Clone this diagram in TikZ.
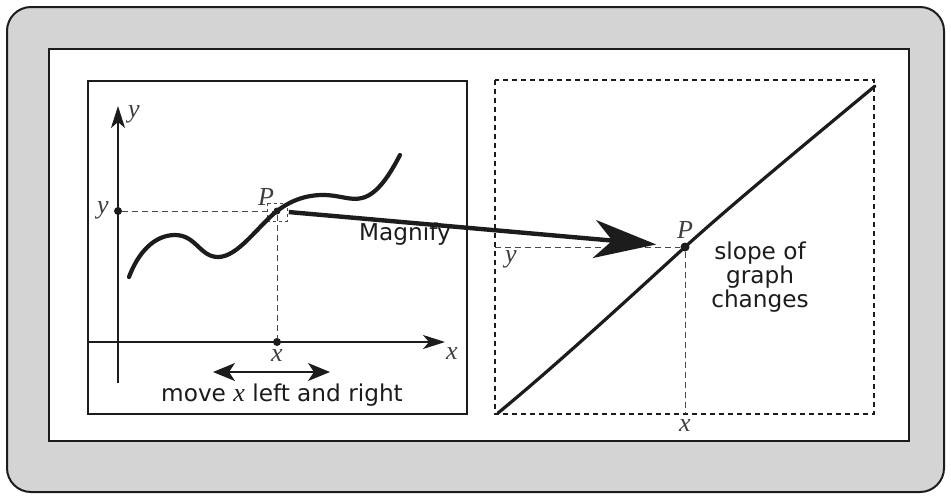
\documentclass[tikz,border=0pt]{standalone}
\usepackage{fontspec}
\setmainfont{Liberation Serif}
\setsansfont{DejaVu Sans}
\usepackage{tikz}
\usetikzlibrary{arrows.meta, positioning, calc}
\definecolor{panelgray}{HTML}{D4D4D4}
\definecolor{ink}{HTML}{1C1C1C}
\tikzstyle{frame} = [draw=ink, line width=1pt]
\tikzstyle{zoomframe} = [draw=ink, line width=1.1pt, dash pattern=on 2.5pt off 2pt]
\tikzstyle{guide} = [draw=ink!80, line width=0.5pt, dash pattern=on 3pt off 2pt]
\tikzstyle{axis} = [draw=ink, line width=0.9pt, -{Stealth[length=11pt, width=7pt, inset=3pt]}]
\tikzstyle{graphline} = [draw=ink, line width=2.1pt, line cap=round]
\tikzstyle{bigarrow} = [draw=ink, line width=2.2pt, -{Stealth[length=31pt, width=19pt, inset=9pt]}]
\tikzstyle{twoway} = [draw=ink, line width=0.9pt, {Stealth[length=11pt, width=9pt, inset=3pt]}-{Stealth[length=11pt, width=9pt, inset=3pt]}]
\tikzstyle{dot} = [circle, fill=ink, inner sep=0pt, minimum size=4pt]
\tikzstyle{var} = [font=\itshape\fontsize{13}{13}\selectfont, text=ink!85, inner sep=1pt]
\tikzstyle{caption} = [font=\sffamily\fontsize{11.6}{12}\selectfont, text=ink, align=center, inner sep=1pt]

\begin{document}
\begin{tikzpicture}[x=0.5pt, y=-0.5pt]
  \useasboundingbox (0,0) rectangle (951,499);

  % frames
  \draw[frame, fill=panelgray, rounded corners=12pt] (7,7) rectangle (944,492);
  \draw[frame, fill=white, line width=0.8pt] (49,49) rectangle (909,441);
  \draw[frame] (88,81) rectangle (467,414);
  \draw[zoomframe] (495,80) rectangle (874,414);

  % left graph
  \coordinate (ybot) at (118,383);
  \coordinate (ytop) at (118,106);
  \coordinate (xleft) at (88,342);
  \coordinate (xright) at (445,342);
  \draw[axis] (ybot) -- (ytop);
  \draw[axis] (xleft) -- (xright);
  \node[var] (ylab) at (134,114) {y};
  \node[var] (xlab) at (452,354) {x};

  \node[dot] (ydot) at (118,211) {};
  \node[dot] (xdot) at (277,342) {};
  \node[dot, minimum size=3.5pt] (P) at (277,211) {};
  \draw[guide] (ydot) -- (P);
  \draw[guide] (P) -- (xdot);
  \draw[guide, dash pattern=on 1.5pt off 1.5pt] (267,203) rectangle (287,221);

  \draw[graphline] (129,277) .. controls (138,253) and (154,235) .. (175,235)
    .. controls (196,235) and (200,257) .. (218,257)
    .. controls (238,257) and (258,226) .. (277,211)
    .. controls (290,201) and (305,195) .. (323,195)
    .. controls (340,195) and (350,201) .. (362,198)
    .. controls (378,194) and (390,174) .. (400,155);

  \node[var] (yval) at (103,210) {y};
  \node[var] (Plab) at (266,197) {P};
  \node[var] (xval) at (277,356) {x};

  \coordinate (moveL) at (213,372);
  \coordinate (moveR) at (330,372);
  \draw[twoway] (moveL) -- (moveR);
  \node[caption] (move) at (282,395) {move \textit{\rmfamily\fontsize{13}{12}\selectfont x} left and right};

  % magnified view
  \node[dot, minimum size=4.5pt] (P2) at (685,247) {};
  \coordinate (yedge) at (495,247);
  \coordinate (xedge) at (685,414);
  \draw[guide] (yedge) -- (P2);
  \draw[guide] (P2) -- (xedge);
  \draw[graphline, line width=1.6pt] (498,413) .. controls (560,362) and (640,288) .. (685,247)
    .. controls (730,206) and (810,140) .. (875,86);
  \node[var] (P2lab) at (685,230) {P};
  \node[var] (y2lab) at (511,259) {y};
  \node[var] (x2lab) at (685,426) {x};
  \node[caption] (slope) at (760,277) {slope of\\graph\\changes};

  \draw[bigarrow, shorten <=4pt, shorten >=12pt] (P) -- (P2);
  \node[caption] (magnify) at (405,234) {Magnify};
\end{tikzpicture}
\end{document}
